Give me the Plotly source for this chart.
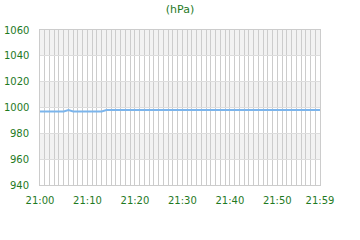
import plotly.graph_objects as go

minutes = list(range(60))
pressure = [997]*6 + [998] + [997]*7 + [998]*46
x_labels = {0: "21:00", 10: "21:10", 20: "21:20", 30: "21:30", 40: "21:40", 50: "21:50", 59: "21:59"}
y_ticks = [940, 960, 980, 1000, 1020, 1040, 1060]
bands = [(1040, 1060), (1000, 1020), (960, 980)]

green = "#1f7a1f"
fig = go.Figure()
fig.add_trace(go.Scatter(x=minutes, y=pressure, mode="lines",
                         line=dict(color="#7cb5ec", width=2), hoverinfo="skip"))

for y0, y1 in bands:
    fig.add_shape(type="rect", xref="paper", yref="y", x0=0, x1=1, y0=y0, y1=y1,
                  fillcolor="#f2f2f2", line=dict(width=0), layer="below")

for v in y_ticks:
    fig.add_annotation(xref="paper", yref="y", x=0, y=v, text=str(v),
                       showarrow=False, xanchor="right", yanchor="middle",
                       xshift=-9, font=dict(size=10, color=green))

fig.update_layout(
    width=360, height=240,
    margin=dict(l=40, r=40, t=30, b=55),
    paper_bgcolor="white", plot_bgcolor="white",
    showlegend=False,
    font=dict(family="DejaVu Sans", size=10, color=green),
    title=dict(text="(hPa)", x=0.5, xanchor="center", y=0.96, yanchor="middle",
               font=dict(size=11, color=green)),
)
fig.update_xaxes(
    range=[0, 59],
    tickvals=minutes,
    ticktext=[x_labels.get(m, "") for m in minutes],
    tickangle=0,
    showgrid=True, gridcolor="#cccccc", gridwidth=1,
    showline=True, linecolor="#cccccc", mirror=True,
    ticks="", zeroline=False, ticklabelstandoff=6,
    tickfont=dict(size=10, color=green),
)
fig.update_yaxes(
    range=[940, 1060],
    tickvals=y_ticks,
    showticklabels=False,
    showgrid=True, gridcolor="#dddddd", gridwidth=1,
    showline=True, linecolor="#cccccc", mirror=True,
    ticks="", zeroline=False,
)

fig.write_html("out.html")
